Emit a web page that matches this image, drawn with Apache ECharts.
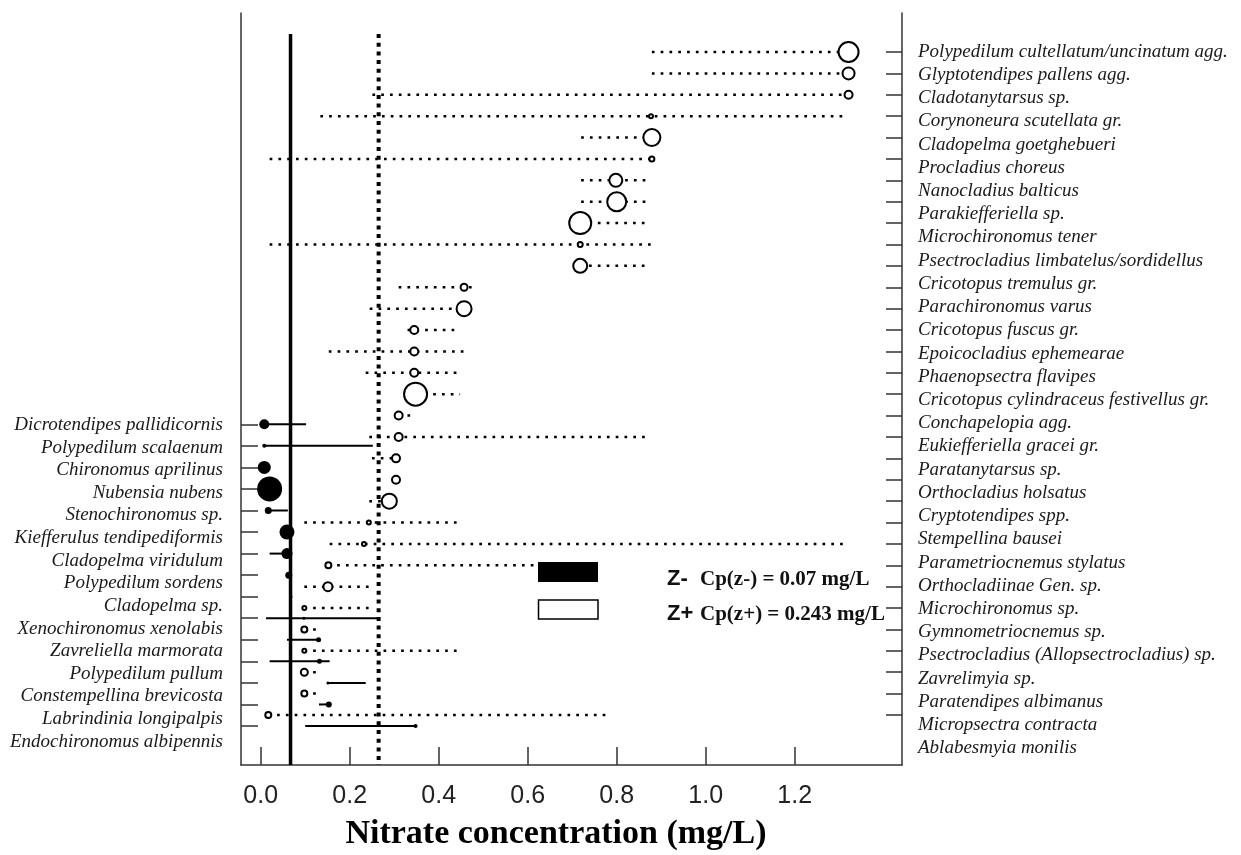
<!DOCTYPE html>
<html><head><meta charset="utf-8">
<script src="https://cdn.jsdelivr.net/npm/echarts@6/dist/echarts.min.js"></script>
<style>html,body{margin:0;padding:0;background:#fff}#c{width:1241px;height:855px}</style>
</head><body><div id="c"></div>
<script>
// ---------- DATA ----------
// z+ (increasers), right-hand labels, top to bottom
const plusTaxa = [
  "Polypedilum cultellatum/uncinatum agg.", "Glyptotendipes pallens agg.", "Cladotanytarsus sp.",
  "Corynoneura scutellata gr.", "Cladopelma goetghebueri", "Procladius choreus", "Nanocladius balticus",
  "Parakiefferiella sp.", "Microchironomus tener", "Psectrocladius limbatelus/sordidellus",
  "Cricotopus tremulus gr.", "Parachironomus varus", "Cricotopus fuscus gr.", "Epoicocladius ephemearae",
  "Phaenopsectra flavipes", "Cricotopus cylindraceus festivellus gr.", "Conchapelopia agg.",
  "Eukiefferiella gracei gr.", "Paratanytarsus sp.", "Orthocladius holsatus", "Cryptotendipes spp.",
  "Stempellina bausei", "Parametriocnemus stylatus", "Orthocladiinae Gen. sp.", "Microchironomus sp.",
  "Gymnometriocnemus sp.", "Psectrocladius (Allopsectrocladius) sp.", "Zavrelimyia sp.",
  "Paratendipes albimanus", "Micropsectra contracta", "Ablabesmyia monilis"
];
// z+ rows (32 plotted rows): change point, 5%-95% quantile interval, z-score
const plusCp = [1.321,1.321,1.321,0.877,0.879,0.879,0.798,0.800,0.718,0.718,0.718,0.457,0.457,0.345,0.345,0.345,
                0.348,0.310,0.310,0.304,0.304,0.289,0.243,0.232,0.152,0.151,0.098,0.098,0.098,0.098,0.098,0.017];
const plusLo = [0.879,0.879,0.251,0.134,0.720,0.020,0.720,0.720,0.718,0.020,0.718,0.310,0.245,0.330,0.153,0.236,
                0.348,0.310,0.244,0.250,0.304,0.244,0.098,0.155,0.152,0.098,0.098,0.098,0.098,0.098,0.098,0.017];
const plusHi = [1.321,1.321,1.321,1.313,0.879,0.879,0.865,0.865,0.865,0.877,0.865,0.474,0.457,0.448,0.460,0.448,
                0.448,0.336,0.869,0.304,0.304,0.289,0.452,1.308,0.630,0.243,0.243,0.126,0.452,0.126,0.126,0.782];
const plusZ  = [10,6,4,2,8.5,2.5,6.5,9.5,11,2.5,7,3.5,7.5,4,4,4,11.5,4,4,4,4,7.5,2,2,3,4.5,2,3,2,3.5,3,3];

// z- (decreasers), left-hand labels, top to bottom
const minusTaxa = [
  "Dicrotendipes pallidicornis", "Polypedilum scalaenum", "Chironomus aprilinus", "Nubensia nubens",
  "Stenochironomus sp.", "Kiefferulus tendipediformis", "Cladopelma viridulum", "Polypedilum sordens",
  "Cladopelma sp.", "Xenochironomus xenolabis", "Zavreliella marmorata", "Polypedilum pullum",
  "Constempellina brevicosta", "Labrindinia longipalpis", "Endochironomus albipennis"
];
const minusCp = [0.008,0.008,0.008,0.020,0.017,0.059,0.059,0.063,0.068,0.097,0.130,0.132,0.151,0.153,0.348];
const minusLo = [0.008,0.008,0.008,0.020,0.017,0.059,0.020,0.063,0.068,0.012,0.059,0.020,0.151,0.131,0.100];
const minusHi = [0.102,0.252,0.008,0.020,0.061,0.059,0.059,0.063,0.068,0.267,0.132,0.155,0.236,0.158,0.348];
const minusZ  = [5,2,6.5,12.5,3.5,7.5,5.5,3.5,1.5,1.5,2.5,2.5,1.5,3,2];

// community change points (drawn lines) and legend values
const communityCp = [0.067, 0.265];
const cpLabels = [0.07, 0.243];
const xTicks = [0.0, 0.2, 0.4, 0.6, 0.8, 1.0, 1.2];
const xTitle = "Nitrate concentration (mg/L)";

// ---------- CHART ----------
const chart = echarts.init(document.getElementById('c'), null, {renderer: 'canvas'});
const serif = '"Liberation Serif","Times New Roman",serif';
const sans = '"Liberation Sans",Arial,sans-serif';
const axisCol = '#333';
const rangeOf = (n) => Array.from({length: n}, (_, i) => i);

function intervalSeries(lo, hi, yIdx, style, z) {
  return {
    type: 'custom', xAxisIndex: 0, yAxisIndex: yIdx, silent: true, z: z,
    data: lo.map((l, i) => [l, hi[i], i]),
    encode: {x: [0, 1], y: 2},
    renderItem: function (params, api) {
      const a = api.coord([api.value(0), api.value(2)]);
      const b = api.coord([api.value(1), api.value(2)]);
      if (b[0] - a[0] < 0.5) return;
      return {type: 'line', shape: {x1: a[0], y1: a[1], x2: b[0], y2: b[1]}, style: style};
    }
  };
}

const option = {
  backgroundColor: '#fff',
  animation: false,
  grid: [
    {left: 241, width: 661, top: 13, height: 752, outerBoundsMode: 'none'},
    {left: 241, width: 661, top: 40.1, height: 719.8, outerBoundsMode: 'none'},
    {left: 241, width: 661, top: 413.7, height: 339.3, outerBoundsMode: 'none'}
  ],
  xAxis: [
    {gridIndex: 0, type: 'value', position: 'bottom', min: -0.0443, max: 1.4411,
     axisLine: {show: true, onZero: false, lineStyle: {color: axisCol, width: 1.5}},
     axisTick: {show: true, inside: true, length: 18, customValues: xTicks, lineStyle: {color: axisCol, width: 1.5}},
     axisLabel: {show: true, customValues: xTicks, formatter: v => Number(v).toFixed(1),
                 fontFamily: sans, fontSize: 25, color: '#222', margin: 19},
     splitLine: {show: false}},
    {gridIndex: 1, type: 'value', show: false},
    {gridIndex: 2, type: 'value', show: false}
  ],
  yAxis: [
    {gridIndex: 0, type: 'value', position: 'left', inverse: true, min: -19.086, max: 15.81,
     axisLine: {show: true, onZero: false, lineStyle: {color: axisCol, width: 1.5}},
     axisTick: {show: true, inside: true, length: 17, customValues: rangeOf(minusTaxa.length), lineStyle: {color: axisCol, width: 1.5}},
     axisLabel: {show: false}, splitLine: {show: false}},
    {gridIndex: 0, type: 'value', position: 'right', inverse: true, min: -1.8235, max: 33.338,
     axisLine: {show: true, onZero: false, lineStyle: {color: axisCol, width: 1.5}},
     axisTick: {show: true, inside: true, length: 16, customValues: rangeOf(plusCp.length), lineStyle: {color: axisCol, width: 1.5}},
     axisLabel: {show: false}, splitLine: {show: false}},
    {gridIndex: 1, type: 'category', position: 'right', inverse: true, data: plusTaxa,
     axisLine: {show: false}, axisTick: {show: false}, splitLine: {show: false},
     axisLabel: {interval: 0, fontFamily: serif, fontStyle: 'italic', fontSize: 19, color: '#1a1a1a', margin: 16}},
    {gridIndex: 2, type: 'category', position: 'left', inverse: true, data: minusTaxa,
     axisLine: {show: false}, axisTick: {show: false}, splitLine: {show: false},
     axisLabel: {interval: 0, fontFamily: serif, fontStyle: 'italic', fontSize: 19, color: '#1a1a1a', margin: 18}}
  ],
  series: [
    // community change point lines
    {type: 'custom', xAxisIndex: 0, yAxisIndex: 1, silent: true, z: 1,
     data: communityCp.map(v => [v]), encode: {x: 0},
     renderItem: function (params, api) {
       const cs = params.coordSys;
       const x = api.coord([api.value(0), 0])[0];
       const st = params.dataIndex === 0
         ? {stroke: '#000', lineWidth: 3.5}
         : {stroke: '#000', lineWidth: 4, lineDash: [4, 4.7]};
       return {type: 'line', shape: {x1: x, y1: cs.y + 21, x2: x, y2: cs.y + cs.height}, style: st};
     }},
    // z+ intervals (dotted)
    intervalSeries(plusLo, plusHi, 1, {stroke: '#000', lineWidth: 2.5, lineDash: [2.7, 6.1]}, 2),
    // z- intervals (solid)
    intervalSeries(minusLo, minusHi, 0, {stroke: '#000', lineWidth: 2}, 2),
    // z+ change points (open)
    {type: 'scatter', xAxisIndex: 0, yAxisIndex: 1, z: 3, silent: true,
     data: plusCp.map((v, i) => [v, i, plusZ[i]]),
     symbol: 'circle', symbolSize: d => d[2] * 2,
     itemStyle: {color: '#fff', borderColor: '#000', borderWidth: 2, opacity: 1}},
    // z- change points (filled)
    {type: 'scatter', xAxisIndex: 0, yAxisIndex: 0, z: 3, silent: true,
     data: minusCp.map((v, i) => [v, i, minusZ[i]]),
     symbol: 'circle', symbolSize: d => d[2] * 2,
     itemStyle: {color: '#000', borderWidth: 0, opacity: 1}}
  ],
  graphic: [
    {type: 'rect', z: 100, shape: {x: 538, y: 562, width: 60, height: 20}, style: {fill: '#000'}},
    {type: 'rect', z: 100, shape: {x: 538.5, y: 600, width: 59.5, height: 19}, style: {fill: '#fff', stroke: '#000', lineWidth: 1.5}},
    {type: 'text', z: 100, x: 667, y: 579, style: {text: 'Z-', fill: '#111', font: 'bold 22px ' + sans, verticalAlign: 'middle', textVerticalAlign: 'middle'}},
    {type: 'text', z: 100, x: 700, y: 580, style: {text: 'Cp(z-) = ' + cpLabels[0] + ' mg/L', fill: '#111', font: 'bold 21px ' + serif, verticalAlign: 'middle', textVerticalAlign: 'middle'}},
    {type: 'text', z: 100, x: 667, y: 614, style: {text: 'Z+', fill: '#111', font: 'bold 22px ' + sans, verticalAlign: 'middle', textVerticalAlign: 'middle'}},
    {type: 'text', z: 100, x: 700, y: 615, style: {text: 'Cp(z+) = ' + cpLabels[1] + ' mg/L', fill: '#111', font: 'bold 21px ' + serif, verticalAlign: 'middle', textVerticalAlign: 'middle'}},
    {type: 'text', z: 100, x: 556, y: 834, style: {text: xTitle, fill: '#000', font: 'bold 34px ' + serif, align: 'center', textAlign: 'center', verticalAlign: 'middle', textVerticalAlign: 'middle'}}
  ]
};
chart.setOption(option);
</script>
</body></html>
